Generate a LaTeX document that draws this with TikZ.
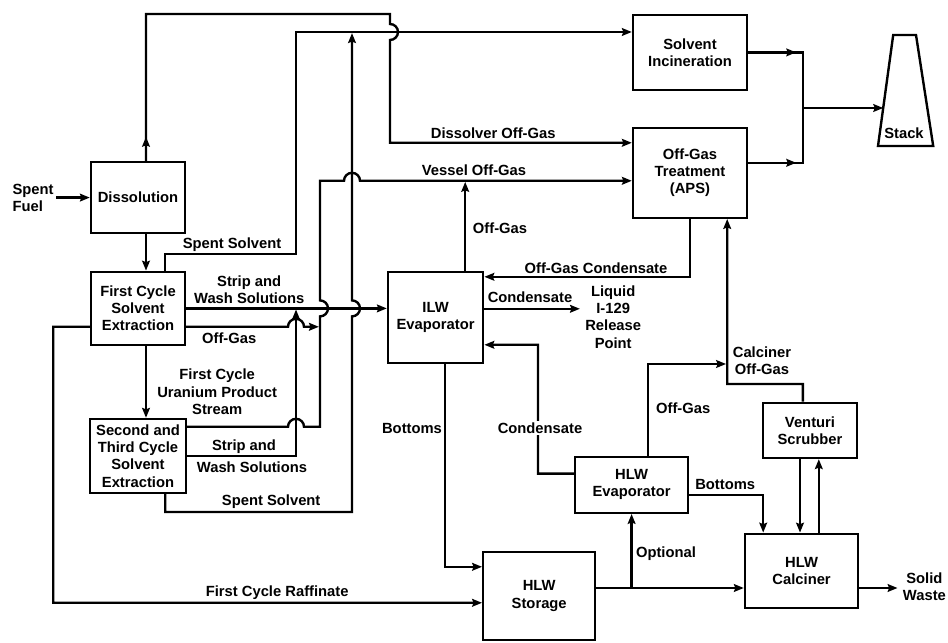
\documentclass[tikz,border=0pt]{standalone}
\usepackage{fontspec}
\setmainfont{Liberation Sans}
\usetikzlibrary{positioning,arrows.meta,calc}
\newcommand{\flowfont}{\fontsize{10.5}{12.3}\selectfont\bfseries}

\begin{document}
\begin{tikzpicture}[
    line width=1.7pt,
    >={Stealth[length=7pt, width=5.5pt, inset=1pt]},
    box/.style={draw, align=center, inner sep=1pt, font=\flowfont},
    lbl/.style={font=\flowfont, align=center, inner sep=1pt},
    arr/.style={->},
    arrj/.style={->, shorten >=0.8pt},
]
\useasboundingbox (0,0) rectangle (23.7,16.05);

% --- NODES ---
\node[box, minimum width=2.35cm, minimum height=1.78cm] (diss) at (3.45,11.11) {Dissolution};
\node[box, minimum width=2.35cm, minimum height=1.83cm] (first) at (3.45,8.34)
    {First Cycle\\Solvent\\Extraction};
\node[box, minimum width=2.4cm, minimum height=1.85cm] (second) at (3.45,4.65)
    {Second and\\Third Cycle\\Solvent\\Extraction};
\node[box, minimum width=2.38cm, minimum height=2.28cm] (ilw) at (10.89,8.11) {ILW\\Evaporator};
\node[box, minimum width=2.85cm, minimum height=1.88cm] (si) at (17.25,14.74) {Solvent\\Incineration};
\node[box, minimum width=2.85cm, minimum height=2.25cm] (ogt) at (17.25,11.73)
    {Off-Gas\\Treatment\\(APS)};
\node[box, minimum width=2.8cm, minimum height=2.2cm] (hlws) at (13.48,1.15) {HLW\\Storage};
\node[box, minimum width=2.83cm, minimum height=1.4cm] (hlwe) at (15.79,3.93) {HLW\\Evaporator};
\node[box, minimum width=2.35cm, minimum height=1.38cm] (vent) at (20.25,5.29) {Venturi\\Scrubber};
\node[box, minimum width=2.83cm, minimum height=1.85cm] (calc) at (20.04,1.78) {HLW\\Calciner};

% stack outline
\draw (21.95,12.4) coordinate (stbl) -- (22.33,15.175) coordinate (sttl)
    -- (22.9,15.175) -- (23.33,12.4) -- cycle;
\node[lbl] (stack) at (22.6,12.73) {Stack};

% in / out texts
\node[lbl, align=left, anchor=west] (fuel) at (0.25,11.11) {Spent\\Fuel};
\node[lbl, inner sep=3pt] (rel) at (15.33,8.13) {Liquid\\I-129\\Release\\Point};
\node[lbl, inner sep=3pt] (waste) at (23.11,1.39) {Solid\\Waste};

\coordinate (sj) at (20.08,13.35);
\coordinate (stin) at ($(stbl)!0.342!(sttl)$);
\coordinate (vog) at ([yshift=-2mm]ogt.west);
\coordinate (opt) at ([yshift=2mm]hlws.east);

% --- ARROWS ---
\draw[arr] (fuel) -- (diss);
\draw[arr] ([xshift=2mm]diss.south) -- ([xshift=2mm]first.north);
\draw[arr] ([xshift=2mm]first.south) -- ([xshift=2mm]second.north);

% dissolver off-gas, hops over the solvent line
\draw[arr] ([xshift=2mm]diss.north) -- ++(0,0.6);
\draw[arr] ([xshift=2mm]diss.north) |- (9.75,15.70) -- (9.75,15.45)
    arc[start angle=90, end angle=-90, radius=0.2] |- ([yshift=7.5mm]ogt.west);

% spent solvent
\draw[arr] ([xshift=6.8mm]first.north) |- (7.4,9.70) |- ([yshift=5.1mm]si.west);
\draw[arrj] ([xshift=6.8mm]second.south) |- (8.8,3.25) -- (8.8,8.14)
    arc[start angle=-90, end angle=90, radius=0.2] -- (8.8,15.25);

% strip and wash solutions
\draw[arr] (first.east) -- (first.east -| ilw.west);
\draw[arrj] (second.east) -| (7.4,8.34);

% off-gas to vessel off-gas
\draw[arrj] ([yshift=-4.6mm]first.east) -- (7.2,7.88)
    arc[start angle=180, end angle=0, radius=0.2] -- (8.0,7.88);
\draw[arr] ([yshift=7.3mm]second.east) -- (7.2,5.38)
    arc[start angle=180, end angle=0, radius=0.2] -| (8.0,8.14)
    arc[start angle=-90, end angle=90, radius=0.2] |- (8.6,11.53)
    arc[start angle=180, end angle=0, radius=0.2] -- (vog);
\draw[arrj] ([xshift=7.4mm]ilw.north) -- ([xshift=7.4mm]ilw.north |- vog);

% ILW evaporator
\draw[arr] (ogt.south) |- ([yshift=10.2mm]ilw.east);
\draw[arr] ([yshift=2.2mm]ilw.east) -- ([yshift=2.2mm]ilw.east -| rel.west);
\draw[arr] ([xshift=2.4mm]ilw.south) |- ([yshift=7.3mm]hlws.west);
\draw[arr] ([yshift=-4.6mm]first.west) -| (1.33,0.98) -- ([yshift=-1.7mm]hlws.west);
\draw[arr] ([yshift=2.8mm]hlwe.west) -| (13.45,7.43) -- ([yshift=-6.8mm]ilw.east);

% HLW side
\draw[arr] (opt) -- (opt -| calc.west);
\draw[arr] (hlwe.south |- opt) -- (hlwe.south);
\draw[arrj] ([xshift=4.1mm]hlwe.north) |- (18.18,6.95);
\draw[arr] ([yshift=-2.5mm]hlwe.east) -| ([xshift=-9.6mm]calc.north);
\draw[arr] ([xshift=-1.8mm]vent.north) |- (18.18,6.45) -- ([xshift=9.3mm]ogt.south);
\draw[arr] ([xshift=-2.5mm]vent.south) -- ([xshift=-2.5mm]vent.south |- calc.north);
\draw[arr] ([xshift=2.2mm]vent.south |- calc.north) -- ([xshift=2.2mm]vent.south);
\draw[arr] ([yshift=-4.3mm]calc.east) -- ([yshift=-4.3mm]calc.east -| waste.west);

% to the stack
\draw (si.east) -| (sj);
\draw[arr] (si.east) -- ++(1.2,0);
\draw ([yshift=2.5mm]ogt.east) -| (sj);
\draw[arr] ([yshift=2.5mm]ogt.east) -- ++(1.2,0);
\draw[arr] (sj) -- (sj -| stin);

% --- LABELS ---
\node[lbl] (l1) at (12.33,12.73) {Dissolver Off-Gas};
\node[lbl] (l2) at (11.85,11.8) {Vessel Off-Gas};
\node[lbl] (l3) at (5.8,9.93) {Spent Solvent};
\node[lbl] (l4) at (6.23,8.8) {Strip and\\Wash Solutions};
\node[lbl] (l5) at (5.73,7.6) {Off-Gas};
\node[lbl] (l6) at (5.43,6.25) {First Cycle\\Uranium Product\\Stream};
\node[lbl] (l7) at (6.1,4.88) {Strip and};
\node[lbl] (l8) at (6.3,4.38) {Wash Solutions};
\node[lbl] (l9) at (6.78,3.5) {Spent Solvent};
\node[lbl] (l10) at (6.93,1.23) {First Cycle Raffinate};
\node[lbl] (l11) at (12.5,10.35) {Off-Gas};
\node[lbl] (l12) at (14.9,9.35) {Off-Gas Condensate};
\node[lbl] (l13) at (13.25,8.63) {Condensate};
\node[lbl] (l14) at (10.3,5.35) {Bottoms};
\node[lbl, fill=white] (l15) at (13.5,5.35) {Condensate};
\node[lbl] (l16) at (17.08,5.85) {Off-Gas};
\node[lbl] (l17) at (19.05,7.03) {Calciner\\Off-Gas};
\node[lbl] (l18) at (18.13,3.95) {Bottoms};
\node[lbl] (l19) at (16.65,2.2) {Optional};

\end{tikzpicture}
\end{document}
